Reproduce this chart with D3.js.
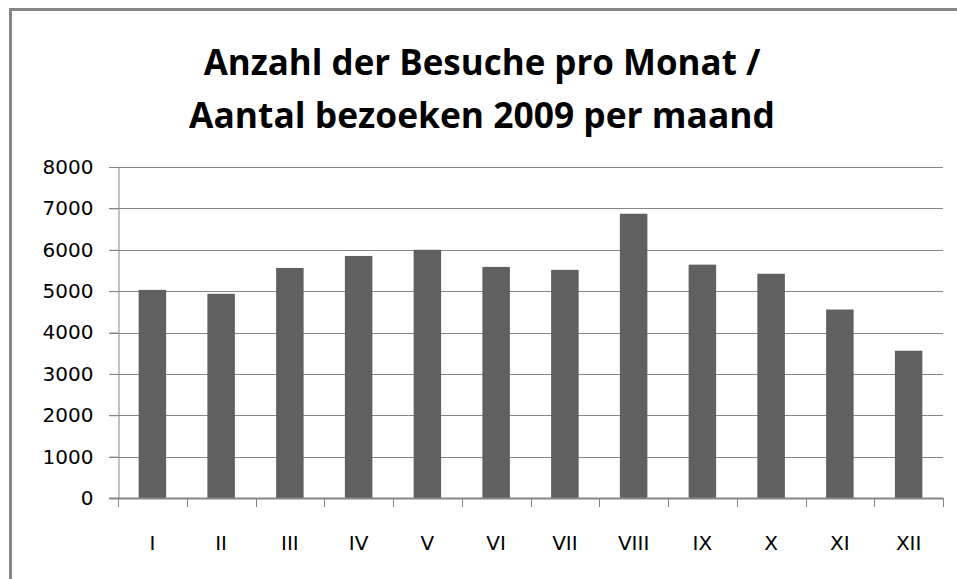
<!DOCTYPE html>
<html>
<head>
<meta charset="utf-8">
<script src="https://cdn.jsdelivr.net/npm/d3@7"></script>
<style>
  body { margin: 0; background: #fff; }
  text { font-family: "DejaVu Sans", sans-serif; fill: #000; }
</style>
</head>
<body>
<div id="chart"></div>
<script>
// Data
let months = ["I", "II", "III", "IV", "V", "VI", "VII", "VIII", "IX", "X", "XI", "XII"];
let visits = [5030, 4935, 5560, 5850, 6000, 5585, 5515, 6870, 5640, 5420, 4555, 3560];
let yTicks = [0, 1000, 2000, 3000, 4000, 5000, 6000, 7000, 8000];
let titleLines = ["Anzahl der Besuche pro Monat /", "Aantal bezoeken 2009 per maand"];

let width = 957;
let height = 579;

// Plot area
let plotLeft = 118, plotRight = 943, plotTop = 167, plotBottom = 498;

let svg = d3.select("#chart")
    .append("svg")
    .attr("width", width)
    .attr("height", height);

// Outer frame (cropped on right and bottom)
svg.append("path")
    .attr("d", "M10.5,600 L10.5,9.5 L1000,9.5")
    .attr("fill", "none")
    .attr("stroke", "#868686")
    .attr("stroke-width", 3);

// Title
let titleWidths = [557, 586];
let title = svg.append("g");
titleLines.forEach((line, i) => {
    let t = title.append("text")
        .attr("x", 482)
        .attr("y", 75 + i * 53)
        .attr("text-anchor", "middle")
        .style("font-family", "'Open Sans', sans-serif")
        .style("font-weight", "bold")
        .style("font-size", "40px")
        .text(line);
    let w = t.node().getComputedTextLength();
    t.style("font-size", (40 * titleWidths[i] / w) + "px");
});

// Scales
let x = d3.scaleBand()
    .domain(months)
    .range([plotLeft, plotRight])
    .paddingInner(0.6)
    .paddingOuter(0.3);

let xOuter = d3.scaleBand()
    .domain(months)
    .range([plotLeft, plotRight]);

let y = d3.scaleLinear()
    .domain([0, 8000])
    .range([plotBottom, plotTop]);

// Gridlines
svg.append("g")
    .selectAll("line")
    .data(yTicks.filter(d => d > 0))
    .join("line")
    .attr("x1", plotLeft - 9)
    .attr("x2", plotRight)
    .attr("y1", d => Math.round(y(d)) + 0.5)
    .attr("y2", d => Math.round(y(d)) + 0.5)
    .attr("stroke", "#868686")
    .attr("stroke-width", 1);

// Y axis
let yAxis = svg.append("g")
    .attr("transform", "translate(" + (plotLeft + 0.5) + ",0)")
    .call(d3.axisLeft(y).tickValues(yTicks).tickSize(9).tickPadding(16).tickFormat(d3.format("d")));
yAxis.select(".domain").attr("stroke", "#868686");
yAxis.selectAll(".tick line").attr("stroke", "#868686");
yAxis.selectAll("text")
    .style("font-size", "20px")
    .style("font-family", "'DejaVu Sans', sans-serif")
    .attr("fill", "#000");

// Bars
svg.append("g")
    .selectAll("rect")
    .data(visits)
    .join("rect")
    .attr("x", (d, i) => x(months[i]))
    .attr("width", x.bandwidth())
    .attr("y", d => y(d))
    .attr("height", d => y(0) - y(d))
    .attr("fill", "#606060");

// X axis
let xAxis = svg.append("g")
    .attr("transform", "translate(0," + plotBottom + ")");
xAxis.append("line")
    .attr("x1", plotLeft - 9)
    .attr("x2", plotRight)
    .attr("y1", 0.5)
    .attr("y2", 0.5)
    .attr("stroke", "#868686")
    .attr("stroke-width", 2);
xAxis.selectAll(".xtick")
    .data(months.concat(["end"]))
    .join("line")
    .attr("class", "xtick")
    .attr("x1", d => Math.round(d === "end" ? plotRight : xOuter(d)) + 0.5)
    .attr("x2", d => Math.round(d === "end" ? plotRight : xOuter(d)) + 0.5)
    .attr("y1", 0)
    .attr("y2", 9)
    .attr("stroke", "#868686");
xAxis.selectAll(".xlabel")
    .data(months)
    .join("text")
    .attr("class", "xlabel")
    .attr("x", d => xOuter(d) + xOuter.bandwidth() / 2)
    .attr("y", 52)
    .attr("text-anchor", "middle")
    .style("font-size", "20px")
    .text(d => d);
</script>
</body>
</html>
